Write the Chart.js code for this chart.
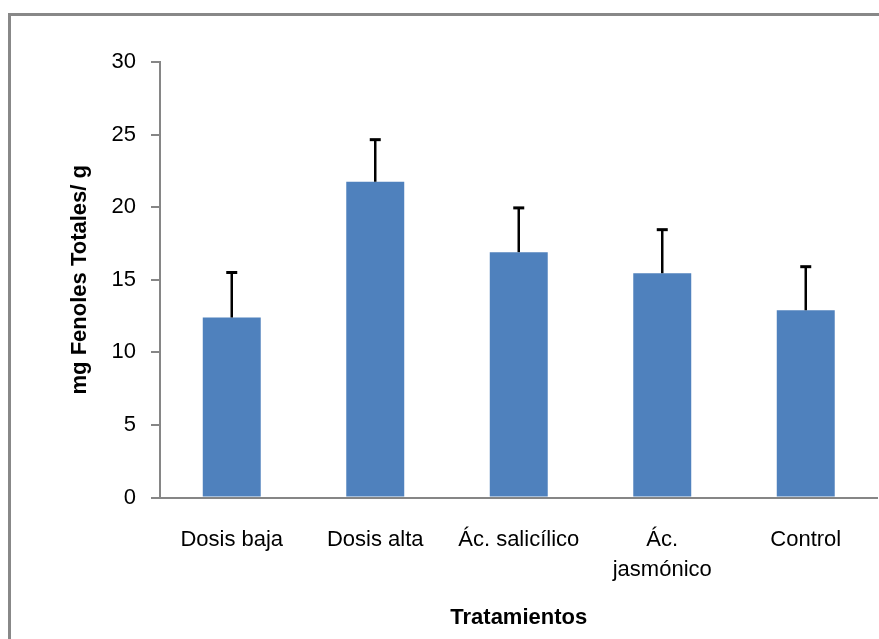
<!DOCTYPE html>
<html>
<head>
<meta charset="utf-8">
<script src="https://cdn.jsdelivr.net/npm/chart.js@4/dist/chart.umd.min.js"></script>
<style>
  html, body { margin: 0; padding: 0; background: #fff; overflow: hidden; }
  #wrap { position: relative; width: 879px; height: 639px; }
  #frame { position: absolute; left: 8px; top: 13px; width: 900px; height: 700px; border: 3px solid #888; box-sizing: border-box; }
  canvas { position: absolute; left: 0; top: 0; }
</style>
</head>
<body>
<div id="wrap">
  <div id="frame"></div>
  <canvas id="c" width="879" height="639"></canvas>
</div>
<script>
const categories = ["Dosis baja", "Dosis alta", "Ác. salicílico", ["Ác.", "jasmónico"], "Control"];
const values = [12.4, 21.75, 16.9, 15.45, 12.9];
const errors = [3.1, 2.9, 3.05, 3.0, 3.0];
const yTicks = [0, 5, 10, 15, 20, 25, 30];
const yTitle = "mg Fenoles Totales/ g";
const xTitle = "Tratamientos";

const errorBarPlugin = {
  id: 'errorBars',
  afterDatasetsDraw(chart) {
    const ctx = chart.ctx;
    const meta = chart.getDatasetMeta(0);
    const yScale = chart.scales.y;
    ctx.save();
    meta.data.forEach((bar, i) => {
      const x = bar.x;
      const yTop = yScale.getPixelForValue(values[i] + errors[i]);
      const yBase = yScale.getPixelForValue(values[i]);
      ctx.strokeStyle = '#000';
      ctx.lineWidth = 2.5;
      ctx.beginPath();
      ctx.moveTo(x, yBase);
      ctx.lineTo(x, yTop);
      ctx.stroke();
      ctx.lineWidth = 3;
      ctx.beginPath();
      ctx.moveTo(x - 5.5, yTop);
      ctx.lineTo(x + 5.5, yTop);
      ctx.stroke();
    });
    ctx.restore();
  }
};

const FONT = "'Liberation Sans', Arial, sans-serif";

new Chart(document.getElementById('c'), {
  type: 'bar',
  data: {
    labels: categories,
    datasets: [{
      data: values,
      backgroundColor: '#4F81BD',
      borderWidth: 0,
      barPercentage: 0.404,
      categoryPercentage: 1.0
    }]
  },
  options: {
    responsive: false,
    animation: false,
    devicePixelRatio: 1,
    layout: { padding: { top: 62, right: 1.5, bottom: 0, left: 0 } },
    plugins: { legend: { display: false }, tooltip: { enabled: false } },
    scales: {
      x: {
        grid: { display: false, drawTicks: false },
        border: { display: true, color: '#868686', width: 2 },
        ticks: {
          color: '#000',
          font: { family: FONT, size: 22, lineHeight: 1.35 },
          padding: 28,
          maxRotation: 0,
          autoSkip: false
        },
        title: {
          display: true,
          text: xTitle,
          color: '#000',
          font: { family: FONT, size: 22, weight: 'bold' },
          padding: { top: 0, bottom: 8 }
        },
        afterFit(scale) { scale.height = 141.5; }
      },
      y: {
        min: 0,
        max: 30,
        afterBuildTicks(scale) { scale.ticks = yTicks.map(v => ({ value: v })); },
        grid: { drawOnChartArea: false, drawTicks: true, tickLength: 9, color: '#868686', lineWidth: 2 },
        border: { display: true, color: '#868686', width: 2 },
        ticks: {
          color: '#000',
          font: { family: FONT, size: 22 },
          padding: 15
        },
        title: {
          display: true,
          text: yTitle,
          color: '#000',
          font: { family: FONT, size: 22, weight: 'bold' },
          padding: { top: 67, bottom: 0 }
        },
        afterFit(scale) { scale.width = 160; }
      }
    }
  },
  plugins: [errorBarPlugin]
});
</script>
</body>
</html>
